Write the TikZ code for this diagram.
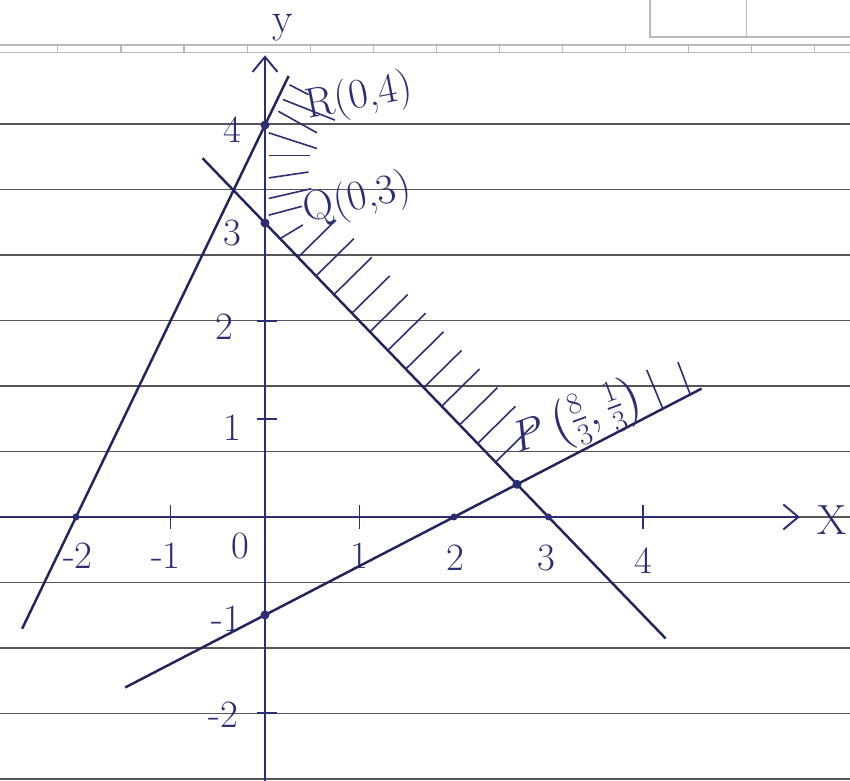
\documentclass[tikz,border=0pt]{standalone}
\usepackage{amsmath}
\usetikzlibrary{arrows.meta}
\definecolor{ink}{RGB}{45,45,115}
\definecolor{rulegray}{RGB}{85,85,90}
\definecolor{margingray}{RGB}{185,185,185}

\begin{document}
\begin{tikzpicture}[
    x=1.89cm, y=1.96cm,
    >={Straight Barb[length=3mm,width=5mm]},
    rule/.style={draw=rulegray, line width=0.9pt},
    margin/.style={draw=margingray, line width=0.6pt},
    axis/.style={draw=ink, line width=1.1pt},
    graph/.style={draw=ink!80!black, line width=1.4pt},
    hatch/.style={draw=ink, line width=0.9pt},
    dot/.style={circle, fill=ink, inner sep=0pt, minimum size=1.8mm},
    num/.style={text=ink, font=\fontsize{22}{26}\selectfont},
    lab/.style={text=ink, font=\fontsize{24}{28}\selectfont}
  ]
  \useasboundingbox (-2.8042,-2.6939) rectangle (6.1905,5.2755);
  \fill[white] (-2.8042,-2.6939) rectangle (6.1905,5.2755);

  % righe del foglio
  \foreach \k in {-4,...,6}
    \draw[rule] (-2.9,\k*0.668) -- (6.3,\k*0.668);
  \draw[margin] (-2.9,4.816) -- (6.3,4.816);
  \draw[margin] (-2.9,4.735) -- (6.3,4.735);
  \foreach \k in {-4,...,9}
    \draw[margin] (-0.19+\k*0.667,4.735) -- ++(0,0.081);
  \draw[margin] (4.074,5.4) -- (4.074,4.898) -- (6.3,4.898);
  \draw[margin] (5.10,5.4) -- (5.10,4.898);

  % assi
  \coordinate (xl) at (-2.85,0);
  \coordinate (xr) at (5.66,0);
  \coordinate (yb) at (0,-2.75);
  \coordinate (yt) at (0,4.71);
  \draw[axis,->] (xl) -- (xr);
  \draw[axis,->] (yb) -- (yt);
  \node[lab] (ylab) at (0.19,4.99) {y};
  \node[lab] (xlab) at (6.0,-0.03) {X};

  % tacche
  \foreach \x in {-1,1,4}
    \draw[axis] (\x,-0.12) -- (\x,0.12);
  \foreach \y in {1,2,-2}
    \draw[axis] (-0.08,\y) -- (0.13,\y);

  \node[num] (xm2) at (-1.98,-0.4) {-2};
  \node[num] (xm1) at (-1.05,-0.4) {-1};
  \node[num] (x0) at (-0.26,-0.3) {0};
  \node[num] (x1) at (1.0,-0.4) {1};
  \node[num] (x2) at (2.01,-0.42) {2};
  \node[num] (x3) at (2.98,-0.42) {3};
  \node[num] (x4) at (4.0,-0.44) {4};

  \node[num] (y4) at (-0.34,3.95) {4};
  \node[num] (y3) at (-0.35,2.9) {3};
  \node[num] (y2) at (-0.43,1.94) {2};
  \node[num] (y1) at (-0.35,0.91) {1};
  \node[num] (ym1) at (-0.41,-1.04) {-1};
  \node[num] (ym2) at (-0.44,-2.02) {-2};

  % rette
  \coordinate (a1) at (-2.57,-1.14);
  \coordinate (a2) at (0.25,4.5);
  \coordinate (b1) at (-0.66,3.66);
  \coordinate (b2) at (4.24,-1.24);
  \coordinate (c1) at (-1.48,-1.74);
  \coordinate (c2) at (4.62,1.31);
  \draw[graph] (a1) -- (a2);
  \draw[graph] (b1) -- (b2);
  \draw[graph] (c1) -- (c2);

  % tratteggio
  \draw[hatch] (0.16,2.84) -- ++(0.24,0.14);
  \foreach \k in {1,...,12}
    \draw[hatch] (0.16+\k*0.19,2.84-\k*0.19) -- ++(0.4,0.38);
  \foreach \a/\b/\c/\d in {0.26/4.41/0.46/4.31, 0.19/4.26/0.74/4.05,
      0.14/4.14/0.55/3.92, 0.04/3.92/0.55/3.76, 0.04/3.69/0.48/3.69,
      0.04/3.46/0.46/3.52, 0.04/3.25/0.49/3.35, 0.04/3.08/0.39/3.17}
    \draw[hatch] (\a,\b) -- (\c,\d);
  \draw[hatch] (4.21,1.105) -- ++(-0.17,0.395);
  \draw[hatch] (4.50,1.25) -- ++(-0.13,0.33);

  % punti
  \node[dot] (R) at (0,4) {};
  \node[dot] (Q) at (0,3) {};
  \node[dot] (P) at (8/3,1/3) {};
  \node[dot] (D) at (0,-1) {};
  \node[dot, minimum size=1.4mm] (A) at (-2,0) {};
  \node[dot, minimum size=1.4mm] (B) at (2,0) {};
  \node[dot, minimum size=1.4mm] (C) at (3,0) {};

  % etichette
  \node[lab, rotate=11] (Rlab) at (1.0,4.28) {R(0,4)};
  \node[lab, rotate=13] (Qlab) at (0.98,3.24) {Q(0,3)};
  \node[lab, rotate=20] (Plab) at (3.31,0.99) {$P\left(\frac{8}{3},\frac{1}{3}\right)$};

\end{tikzpicture}
\end{document}
